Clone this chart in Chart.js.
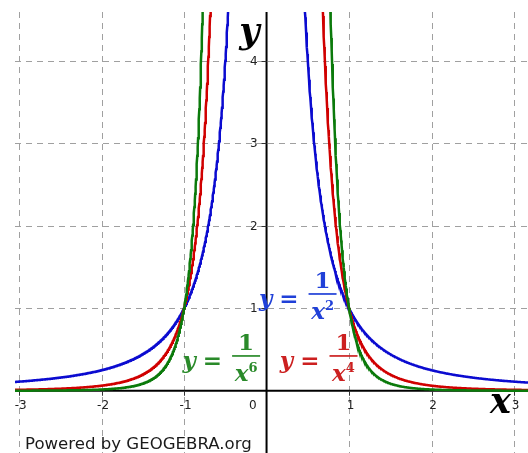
<!DOCTYPE html>
<html>
<head>
<meta charset="utf-8">
<script src="https://cdn.jsdelivr.net/npm/chart.js@4/dist/chart.umd.min.js"></script>
<style>
  html, body { margin: 0; padding: 0; background: #ffffff; }
  #wrap { width: 528px; height: 453px; }
</style>
</head>
<body>
<div id="wrap"><canvas id="c" width="528" height="453"></canvas></div>
<script>
// Power functions y = 1 / x^n, one curve per exponent
const exponents = [6, 4, 2];
const curveNames = ['y = 1/x⁶', 'y = 1/x⁴', 'y = 1/x²'];
const superscripts = ['6', '4', '2'];
// sampled domain on each side of the pole at x = 0
const branchLeft = [-3.3, -0.3];
const branchRight = [0.3, 3.3];
const sampleStep = 0.005;
// axis ticks
const xTicks = [-3, -2, -1, 0, 1, 2, 3];
const yTicks = [1, 2, 3, 4];
// visible window
const xRange = [-3.05, 3.17];
const yRange = [-0.754, 4.59];
// anchor of each formula label (centre of its fraction bar), in axis units
const labelAnchorX = [-0.248, 0.933, 0.679];
const labelAnchorY = [0.422, 0.422, 1.173];

const lineColors = ['#0b7a0b', '#d00000', '#0b0bd0'];
const textColors = ['#2a8a2a', '#cc2020', '#2040d8'];

function samples(range) {
  const xs = [];
  const n = Math.round((range[1] - range[0]) / sampleStep);
  for (let i = 0; i <= n; i++) xs.push(+(range[0] + i * sampleStep).toFixed(4));
  return xs;
}
const xsLeft = samples(branchLeft);
const xsRight = samples(branchRight);

function curve(n) {
  const pts = xsLeft.map(x => ({ x, y: 1 / Math.pow(x, n) }));
  pts.push({ x: 0, y: null });
  xsRight.forEach(x => pts.push({ x, y: 1 / Math.pow(x, n) }));
  return pts;
}

const datasets = exponents.map((n, i) => ({
  label: curveNames[i],
  data: curve(n),
  showLine: true,
  borderColor: lineColors[i],
  backgroundColor: lineColors[i],
  borderWidth: 2.5,
  pointRadius: 0,
  spanGaps: false,
  tension: 0
}));

const LABEL_FONT = 23;
const SUP_FONT = 13;

// grid, axes and tick labels underneath the curves
const axesPlugin = {
  id: 'axesPlugin',
  beforeDatasetsDraw(chart) {
    const { ctx, chartArea: a, scales: { x, y } } = chart;
    const x0 = x.getPixelForValue(0), y0 = y.getPixelForValue(0);
    ctx.save();
    ctx.strokeStyle = '#a0a0a0';
    ctx.lineWidth = 1;
    ctx.setLineDash([6, 5]);
    xTicks.forEach(t => {
      if (t === 0) return;
      const px = Math.round(x.getPixelForValue(t)) + 0.5;
      ctx.beginPath(); ctx.moveTo(px, a.top); ctx.lineTo(px, a.bottom); ctx.stroke();
    });
    yTicks.forEach(t => {
      const py = Math.round(y.getPixelForValue(t)) + 0.5;
      ctx.beginPath(); ctx.moveTo(a.left, py); ctx.lineTo(a.right, py); ctx.stroke();
    });
    ctx.setLineDash([]);
    // axes
    ctx.strokeStyle = '#000000';
    ctx.lineWidth = 2;
    ctx.beginPath(); ctx.moveTo(a.left, y0); ctx.lineTo(a.right, y0); ctx.stroke();
    ctx.beginPath(); ctx.moveTo(x0, a.top); ctx.lineTo(x0, a.bottom); ctx.stroke();
    // small ticks
    ctx.lineWidth = 1;
    ctx.strokeStyle = '#333333';
    xTicks.forEach(t => {
      if (t === 0) return;
      const px = Math.round(x.getPixelForValue(t)) + 0.5;
      ctx.beginPath(); ctx.moveTo(px, y0); ctx.lineTo(px, y0 + 5); ctx.stroke();
    });
    yTicks.forEach(t => {
      const py = Math.round(y.getPixelForValue(t)) + 0.5;
      ctx.beginPath(); ctx.moveTo(x0 - 5, py); ctx.lineTo(x0, py); ctx.stroke();
    });
    // tick labels
    ctx.fillStyle = '#222222';
    ctx.font = '12px "DejaVu Sans", sans-serif';
    ctx.textBaseline = 'top';
    ctx.textAlign = 'center';
    xTicks.forEach(t => {
      const px = x.getPixelForValue(t);
      if (t === 0) {
        ctx.textAlign = 'right';
        ctx.fillText('0', x0 - 10, y0 + 9);
        ctx.textAlign = 'center';
      } else {
        ctx.fillText(String(t), px + 1.5, y0 + 9);
      }
    });
    ctx.textAlign = 'right';
    ctx.textBaseline = 'middle';
    yTicks.forEach(t => {
      ctx.fillText(String(t), x0 - 9, y.getPixelForValue(t) + 1);
    });
    ctx.restore();
  },
  afterDatasetsDraw(chart) {
    const { ctx, chartArea: a, scales: { x, y } } = chart;
    const x0 = x.getPixelForValue(0), y0 = y.getPixelForValue(0);
    ctx.save();
    // axis names
    ctx.fillStyle = '#000000';
    ctx.font = 'italic bold 35px "DejaVu Serif", serif';
    ctx.textBaseline = 'alphabetic';
    ctx.textAlign = 'right';
    ctx.fillText('y', x0 - 7, 43);
    ctx.fillText('x', x.getPixelForValue(3) - 3, y0 + 22);

    // formula labels  y = 1 / x^n
    exponents.forEach((n, i) => {
      const cx = x.getPixelForValue(labelAnchorX[i]);
      const by = y.getPixelForValue(labelAnchorY[i]);
      const barW = 28;
      ctx.fillStyle = textColors[i];
      ctx.strokeStyle = textColors[i];
      // fraction bar
      ctx.lineWidth = 1.7;
      ctx.beginPath(); ctx.moveTo(cx - barW / 2, by); ctx.lineTo(cx + barW / 2, by); ctx.stroke();
      // numerator
      ctx.font = 'bold ' + LABEL_FONT + 'px "DejaVu Serif", serif';
      ctx.textAlign = 'center';
      ctx.textBaseline = 'alphabetic';
      ctx.fillText('1', cx, by - 6);
      // denominator x^n
      ctx.font = 'italic bold ' + LABEL_FONT + 'px "DejaVu Serif", serif';
      const wx = ctx.measureText('x').width;
      ctx.font = 'bold ' + SUP_FONT + 'px "DejaVu Serif", serif';
      const ws = ctx.measureText(superscripts[i]).width;
      const left = cx - (wx + ws) / 2;
      ctx.textAlign = 'left';
      ctx.font = 'italic bold ' + LABEL_FONT + 'px "DejaVu Serif", serif';
      ctx.fillText('x', left, by + 25);
      ctx.font = 'bold ' + SUP_FONT + 'px "DejaVu Serif", serif';
      ctx.fillText(superscripts[i], left + wx, by + 16);
      // "y ="
      ctx.textAlign = 'right';
      ctx.font = 'bold ' + LABEL_FONT + 'px "DejaVu Serif", serif';
      const eqRight = cx - barW / 2 - 10;
      ctx.fillText('=', eqRight, by + 12);
      const wEq = ctx.measureText('=').width;
      ctx.font = 'italic bold ' + LABEL_FONT + 'px "DejaVu Serif", serif';
      ctx.fillText('y', eqRight - wEq - 7, by + 12);
    });

    // credit line
    ctx.fillStyle = '#1a1a1a';
    ctx.textAlign = 'left';
    ctx.textBaseline = 'alphabetic';
    const credit = 'Powered by GEOGEBRA.org';
    let size = 16;
    ctx.font = size + 'px "DejaVu Sans", sans-serif';
    size = size * 227 / ctx.measureText(credit).width;
    ctx.font = size.toFixed(2) + 'px "DejaVu Sans", sans-serif';
    ctx.fillText(credit, a.left + 10, a.bottom - 4);
    ctx.restore();
  }
};

new Chart(document.getElementById('c'), {
  type: 'scatter',
  data: { datasets },
  options: {
    responsive: false,
    animation: false,
    layout: { padding: { left: 15, top: 12, right: 0, bottom: 0 } },
    scales: {
      x: { type: 'linear', min: xRange[0], max: xRange[1], display: false },
      y: { type: 'linear', min: yRange[0], max: yRange[1], display: false }
    },
    plugins: { legend: { display: false }, tooltip: { enabled: false } },
    elements: { point: { radius: 0 } }
  },
  plugins: [axesPlugin]
});
</script>
</body>
</html>
